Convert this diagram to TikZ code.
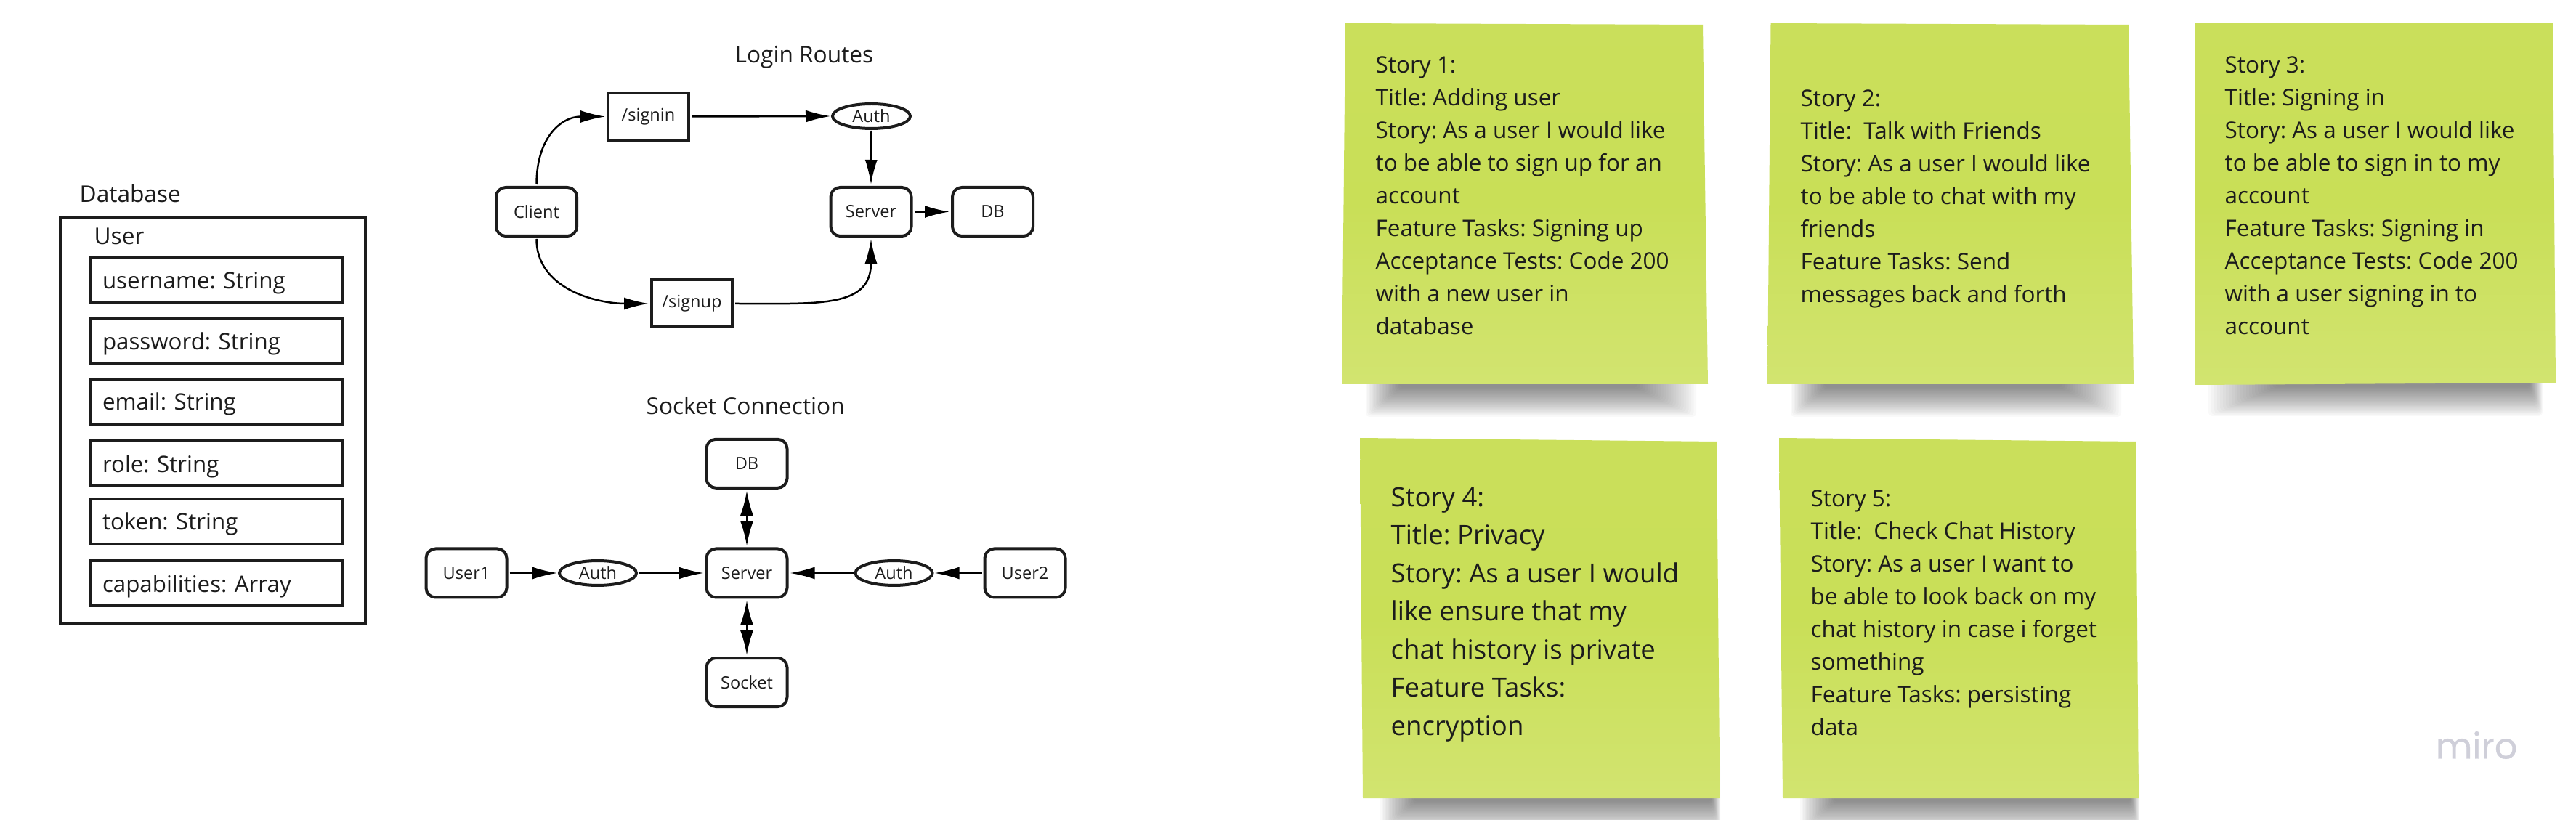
\documentclass[tikz,border=0pt]{standalone}
\usepackage{fontspec}
\usetikzlibrary{arrows.meta,shapes.geometric}
\setmainfont{Open Sans}
\newfontfamily\mirofont[FakeBold=0.6]{Poppins}
\frenchspacing
\definecolor{inkdark}{HTML}{1C1C1C}
\definecolor{stickytop}{HTML}{CADF5B}
\definecolor{stickymid}{HTML}{C9DF57}
\definecolor{stickybot}{HTML}{D2E470}
\definecolor{mirogray}{HTML}{CFCFD9}
\tikzset{
	linkbox/.style={draw=inkdark,line width=.04cm,rounded corners=.13cm,minimum width=1.11cm,minimum height=.67cm,inner sep=0,outer sep=.04cm,font=\fontsize{6.7}{8}\selectfont,text=inkdark},
	routebox/.style={draw=inkdark,line width=.04cm,minimum width=1.11cm,minimum height=.65cm,inner sep=0,outer sep=.04cm,font=\fontsize{6.7}{8}\selectfont,text=inkdark},
	authoval/.style={draw=inkdark,ellipse,line width=.04cm,minimum width=1.07cm,minimum height=.34cm,inner sep=0,outer sep=.03cm,font=\fontsize{6.7}{8}\selectfont,text=inkdark},
	fieldbox/.style={draw=inkdark,line width=.04cm,minimum height=.62cm,text width=3.14cm,align=left,inner xsep=.16cm,inner ysep=0,text height=.32cm,text depth=.08cm,font=\fontsize{8.9}{11}\selectfont,text=inkdark},
	heading/.style={anchor=base west,inner sep=0,font=\fontsize{9}{11}\selectfont,text=inkdark},
	flow/.style={line width=.025cm,draw=black,-{Latex[length=.34cm,width=.17cm]}},
	bothways/.style={line width=.025cm,draw=black,{Latex[length=.34cm,width=.18cm]}-{Latex[length=.34cm,width=.18cm]}},
	stickynote/.style={top color=stickytop,bottom color=stickybot,middle color=stickymid},
	storytext/.style={anchor=north west,inner sep=0,align=left,text=inkdark,font=\fontsize{8.95}{12.8}\selectfont},
	bigstorytext/.style={anchor=north west,inner sep=0,align=left,text=inkdark,font=\fontsize{10.4}{14.95}\selectfont}
}
% left, right, bottom, how fast each end draws in
\newcommand{\stickyshadow}[5]{
	\foreach \i in {0,...,23}
		\fill[black,opacity=.025,rounded corners=.05cm] ({#1+#4*\i/2},#3+.5) rectangle ({#2-#5*\i/2},{#3-.45+.035*\i/2});
}

\begin{document}
\begin{tikzpicture}
	\useasboundingbox (0,0) rectangle (35.46,11.28);
	% database
	\node[heading] (dbtitle) at (1.09,8.49) {Database};
	\node[draw=inkdark,line width=.04cm,minimum width=4.20cm,minimum height=5.58cm,inner sep=0] (dbbox) at (2.93,5.49) {};
	\node[heading] (usertitle) at (1.29,7.91) {User};
	\node[fieldbox] (username) at (2.98,7.42) {username: String};
	\node[fieldbox] (password) at (2.98,6.58) {password: String};
	\node[fieldbox] (email) at (2.98,5.75) {email: String};
	\node[fieldbox] (role) at (2.98,4.90) {role: String};
	\node[fieldbox] (token) at (2.98,4.10) {token: String};
	\node[fieldbox] (capabilities) at (2.98,3.25) {capabilities: Array};

	% login routes
	\node[heading] (logintitle) at (10.11,10.41) {Login Routes};
	\node[linkbox] (client) at (7.385,8.365) {Client};
	\node[routebox] (signin) at (8.925,9.675) {/signin};
	\node[routebox] (signup) at (9.525,7.10) {/signup};
	\node[authoval] (auth) at (11.995,9.68) {Auth};
	\node[linkbox] (server) at (11.99,8.365) {Server};
	\node[linkbox] (db) at (13.665,8.365) {DB};
	\draw[flow] (client.north) to[out=90,in=180,looseness=1.2] (signin.west);
	\draw[flow] (client.south) to[out=-90,in=180] (signup.west);
	\draw[flow] (signin.east) -- (auth.west);
	\draw[flow] (auth.south) -- (server.north);
	\draw[flow] (signup.east) to[out=0,in=-90,out distance=1.16cm,in distance=.95cm] (server.south);
	\draw[flow] (server.east) -- (db.west);

	% socket connection
	\node[heading] (sockettitle) at (8.89,5.573) {Socket Connection};
	\node[linkbox] (dbtop) at (10.28,4.897) {DB};
	\node[linkbox] (hub) at (10.28,3.39) {Server};
	\node[linkbox] (socket) at (10.28,1.885) {Socket};
	\node[linkbox] (userone) at (6.42,3.39) {User1};
	\node[linkbox] (usertwo) at (14.11,3.39) {User2};
	\node[authoval,minimum width=1.06cm] (authone) at (8.23,3.39) {Auth};
	\node[authoval,minimum width=1.06cm] (authtwo) at (12.305,3.39) {Auth};
	\draw[flow] (userone.east) -- (authone.west);
	\draw[flow] (authone.east) -- (hub.west);
	\draw[flow] (usertwo.west) -- (authtwo.east);
	\draw[flow] (authtwo.west) -- (hub.east);
	\draw[bothways] (dbtop.south) -- (hub.north);
	\draw[bothways] (hub.south) -- (socket.north);

	% stories
	\stickyshadow{18.80}{23.35}{5.99}{.04}{.07}
	\shade[stickynote] (18.52,10.96) -- (23.44,10.94) -- (23.51,5.99) -- (18.47,5.99) -- cycle;
	\node[storytext] (story1) at (18.93,10.51) {Story 1:\\Title: Adding user\\Story: As a user I would like\\to be able to sign up for an\\account\\Feature Tasks: Signing up\\Acceptance Tests: Code 200\\with a new user in\\database};

	\stickyshadow{24.65}{29.20}{5.99}{.04}{.07}
	\shade[stickynote] (24.375,10.96) -- (29.30,10.94) -- (29.37,5.99) -- (24.33,5.99) -- cycle;
	\node[storytext] (story2) at (24.78,10.05) {Story 2:\\Title:\ \ Talk with Friends\\Story: As a user I would like\\to be able to chat with my\\friends\\Feature Tasks: Send\\messages back and forth};

	\stickyshadow{30.40}{35.00}{6.00}{.08}{.015}
	\shade[stickynote] (30.215,10.96) -- (35.14,10.96) -- (35.18,6.01) -- (30.215,5.98) -- cycle;
	\node[storytext] (story3) at (30.62,10.51) {Story 3:\\Title: Signing in\\Story: As a user I would like\\to be able to sign in to my\\account\\Feature Tasks: Signing in\\Acceptance Tests: Code 200\\with a user signing in to\\account};

	\stickyshadow{19.00}{23.68}{.29}{.04}{.01}
	\shade[stickynote] (18.72,5.25) -- (23.63,5.20) -- (23.675,.29) -- (18.76,.29) -- cycle;
	\node[bigstorytext] (story4) at (19.14,4.58) {Story 4:\\Title: Privacy\\Story: As a user I would\\like ensure that my\\chat history is private\\Feature Tasks:\\encryption};

	\stickyshadow{24.78}{29.45}{.29}{.04}{.01}
	\shade[stickynote] (24.49,5.25) -- (29.40,5.20) -- (29.44,.29) -- (24.54,.29) -- cycle;
	\node[storytext] (story5) at (24.92,4.54) {Story 5:\\Title:\ \ Check Chat History\\Story: As a user I want to\\be able to look back on my\\chat history in case i forget\\something\\Feature Tasks: persisting\\data};

	\node[anchor=base west,inner sep=0,text=mirogray,font=\mirofont\fontsize{14}{16}\selectfont] (miro) at (33.52,.835) {miro};
\end{tikzpicture}
\end{document}
